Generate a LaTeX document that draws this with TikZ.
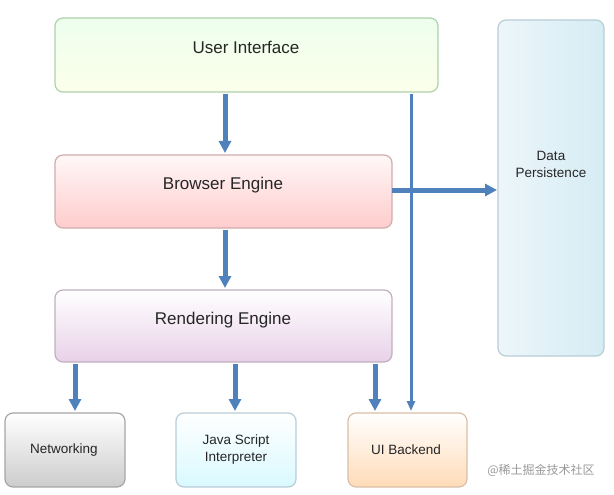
\documentclass[tikz,border=0pt]{standalone}
\usepackage{fontspec}
\setmainfont{Liberation Sans}
\newfontfamily\cjk{Noto Sans CJK SC}
\usetikzlibrary{arrows.meta}
\definecolor{arr}{RGB}{79,129,189}
\definecolor{dpl}{RGB}{236,246,250}
\definecolor{dpr}{RGB}{214,236,244}
\begin{document}
\begin{tikzpicture}[x=1pt,y=-1pt,
 big/.style={font=\fontsize{17}{20}\selectfont, text=black!85},
 sm/.style={font=\fontsize{13.5}{17}\selectfont, text=black!85, align=center},
 fl/.style={-{Triangle[length=12pt,width=12pt]}, line width=5pt, draw=arr},
 fs/.style={-{Triangle[length=10pt,width=8pt]}, line width=3pt, draw=arr}]
\useasboundingbox (0,0) rectangle (614,495);
\shade[top color=green!7!white,bottom color=green!18!yellow!8!white, draw=green!30!gray!50, line width=1.2pt, rounded corners=8pt] (55,18) rectangle (438,92);
\node[big] (ui) at (246,47) {User Interface};
\shade[top color=red!3!white,bottom color=red!20!white, draw=red!30!gray!50, line width=1.2pt, rounded corners=8pt] (55,155) rectangle (392,228);
\node[big] (be) at (223,185) {Browser Engine};
\shade[top color=white,bottom color=violet!18!white, draw=violet!25!gray!50, line width=1.2pt, rounded corners=8pt] (55,290) rectangle (392,362);
\node[big] (re) at (223,320) {Rendering Engine};
\shade[left color=dpl,right color=dpr, draw=cyan!30!gray!50, line width=1.2pt, rounded corners=8pt] (498,20) rectangle (604,356);
\node[sm] (dp) at (551,164) {Data\\Persistence};
\shade[top color=white,bottom color=gray!40!white, draw=gray!70, line width=1.2pt, rounded corners=8pt] (5,413) rectangle (125,487);
\node[sm] (nw) at (64,450) {Networking};
\shade[top color=white,bottom color=blue!15!cyan!15!white, draw=cyan!30!gray!50, line width=1.2pt, rounded corners=8pt] (176,413) rectangle (296,487);
\node[sm] (js) at (236,450) {Java Script\\Interpreter};
\shade[top color=white,bottom color=orange!28!white, draw=orange!40!gray!50, line width=1.2pt, rounded corners=8pt] (348,413) rectangle (467,487);
\node[sm] (ub) at (406,450) {UI Backend};
\coordinate (a1) at (225,94); \coordinate (a2) at (225,153);
\coordinate (b1) at (225,230); \coordinate (b2) at (225,288);
\draw[fl] (a1) -- (a2);
\draw[fl] (b1) -- (b2);
\foreach \x in {75,235,375}{
 \draw[fl] (\x,364) -- (\x,411);}
\draw[fs] (411,94) -- (411,411);
\draw[fl] (392,190) -- (497,190);
\node[font=\cjk\fontsize{12}{14}\selectfont, text=gray!80] (wm) at (541,470) {@稀土掘金技术社区};
\end{tikzpicture}
\end{document}
